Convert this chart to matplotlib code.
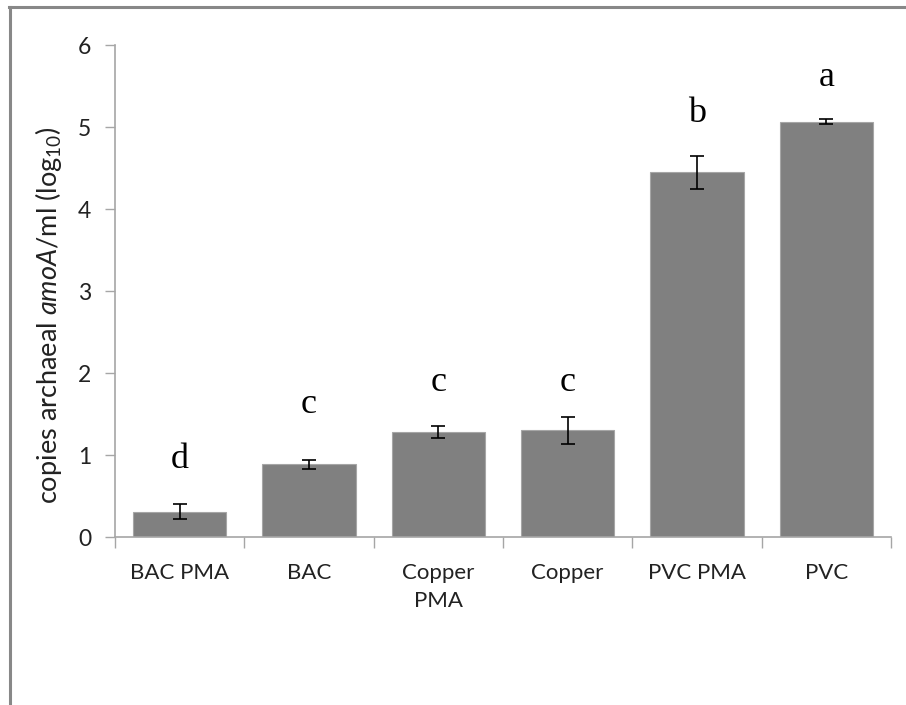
import matplotlib
matplotlib.use("Agg")
import matplotlib.pyplot as plt
from matplotlib.lines import Line2D

categories = ["BAC PMA", "BAC", "Copper\nPMA", "Copper", "PVC PMA", "PVC"]
values = [0.31, 0.89, 1.28, 1.30, 4.45, 5.065]
errors = [0.09, 0.055, 0.075, 0.16, 0.20, 0.03]
letters = ["d", "c", "c", "c", "b", "a"]
letter_y = [0.94, 1.61, 1.88, 1.88, 5.17, 5.60]
yticks = [0, 1, 2, 3, 4, 5, 6]

plt.rcParams['font.family'] = ['Lato', 'DejaVu Sans']
plt.rcParams['mathtext.fontset'] = 'custom'
plt.rcParams['mathtext.rm'] = 'Lato'
plt.rcParams['mathtext.it'] = 'Lato:italic'

fig = plt.figure(figsize=(9.06, 7.05), dpi=100)
W, H = 906, 705
ax = fig.add_axes([115 / W, 1 - 537 / H, (891 - 115) / W, (537 - 45) / H])

x = list(range(len(categories)))
ax.bar(x, values, width=0.72, color="#808080", edgecolor="#a6a6a6", linewidth=0.8, zorder=2)
ax.errorbar(x, values, yerr=errors, fmt="none", ecolor="black", elinewidth=1.2,
            capsize=4.7, capthick=1.2, zorder=3)
for xi, lab, ly in zip(x, letters, letter_y):
    ax.text(xi, ly, lab, ha="center", va="center", fontsize=26,
            family="Liberation Serif", color="black")

ax.set_xlim(-0.5, len(categories) - 0.5)
ax.set_ylim(0, 6)
ax.set_yticks(yticks)
ax.set_xticks(x)
ax.set_xticklabels(categories, fontsize=16, color="#222222", linespacing=1.5)
ax.set_xticks([i - 0.5 for i in range(len(categories) + 1)], minor=True)
ax.tick_params(axis="x", which="major", length=0, pad=19)
ax.tick_params(axis="x", which="minor", length=8, color="#a6a6a6", width=1)
ax.tick_params(axis="y", length=7, color="#a6a6a6", width=1, labelsize=16.5,
               labelcolor="#222222", pad=10)
for s in ["top", "right"]:
    ax.spines[s].set_visible(False)
for s in ["left", "bottom"]:
    ax.spines[s].set_color("#a6a6a6")
    ax.spines[s].set_linewidth(1.2)

ax.set_ylabel(r"copies archaeal $\mathit{amoA}$/ml (log$_{10}$)", fontsize=19.5,
              color="#222222")
ax.yaxis.set_label_coords((64 - 115) / (891 - 115), 0.45)

fig.add_artist(Line2D([9.5 / W, 9.5 / W], [0, 1 - 6.5 / H], color="#888888", lw=2.2,
                      transform=fig.transFigure))
fig.add_artist(Line2D([8.5 / W, 1], [1 - 6.5 / H, 1 - 6.5 / H], color="#888888", lw=2.2,
                      transform=fig.transFigure))

fig.savefig("out.png", dpi=100)
